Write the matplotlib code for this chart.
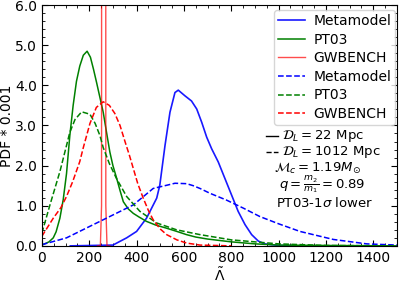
import matplotlib
matplotlib.use('Agg')
import matplotlib.pyplot as plt
from matplotlib.ticker import MultipleLocator, FormatStrFormatter

# Values (Lambda tilde, PDF * 0.001)
# solid: D_L = 22 Mpc, dashed: D_L = 1012 Mpc
meta_x = [120, 300, 358, 400, 442, 485, 498, 520, 541, 562, 576, 604, 632, 654, 675,
          696, 717, 745, 773, 801, 829, 858, 886, 914, 940, 1000, 1100]
meta_y = [0.0, 0.02, 0.2, 0.36, 0.69, 1.19, 1.51, 2.5, 3.33, 3.82, 3.88, 3.74, 3.61, 3.41, 3.08,
          2.71, 2.42, 2.09, 1.68, 1.27, 0.86, 0.53, 0.28, 0.12, 0.05, 0.01, 0.0]

pt03_x = [0, 30, 48, 60, 76, 90, 104, 118, 132, 146, 160, 175, 191, 205, 218, 231, 245,
          259, 273, 287, 300, 315, 330, 344, 365, 386, 410, 442, 480, 527, 570, 611,
          650, 700, 800, 900, 1000, 1200, 1500]
pt03_y = [0.02, 0.1, 0.2, 0.35, 0.69, 1.15, 1.8, 2.75, 3.5, 4.1, 4.48, 4.75, 4.85, 4.7, 4.4, 4.07, 3.7,
          3.33, 2.83, 2.34, 2.0, 1.7, 1.38, 1.10, 0.92, 0.81, 0.72, 0.61, 0.52, 0.44, 0.36, 0.28,
          0.22, 0.17, 0.1, 0.05, 0.02, 0.01, 0.0]

gwb_x = [235, 247, 252, 254, 268, 270, 275, 287]
gwb_y = [0.0, 0.0, 1.0, 60.0, 60.0, 1.0, 0.0, 0.0]

meta_d_x = [0, 104, 245, 386, 470, 498, 527, 562, 611, 639, 668, 710, 780, 851, 921,
            1000, 1090, 1231, 1372, 1500]
meta_d_y = [0.03, 0.2, 0.61, 1.02, 1.43, 1.47, 1.51, 1.56, 1.55, 1.50, 1.43, 1.31, 1.14, 0.94, 0.73,
            0.55, 0.36, 0.16, 0.05, 0.02]

pt03_d_x = [0, 34, 76, 104, 118, 140, 168, 203, 225, 245, 259, 285, 315, 358, 414, 485, 569, 668,
            800, 1000, 1200, 1500]
pt03_d_y = [0.32, 1.02, 1.85, 2.5, 2.83, 3.15, 3.34, 3.28, 3.05, 2.75, 2.45, 2.05, 1.68, 1.23, 0.86,
            0.57, 0.40, 0.28, 0.15, 0.05, 0.01, 0.0]

gwb_d_x = [0, 48, 80, 104, 130, 160, 175, 203, 230, 259, 285, 308, 330, 351, 370, 386, 405,
           428, 450, 470, 500, 527, 570, 611, 668, 800]
gwb_d_y = [0.24, 0.69, 0.95, 1.23, 1.6, 2.1, 2.45, 3.05, 3.45, 3.59, 3.5, 3.3, 3.0, 2.6, 2.25, 1.93,
           1.55, 1.19, 0.88, 0.65, 0.42, 0.28, 0.15, 0.07, 0.02, 0.0]

fig = plt.figure(figsize=(3.99, 2.81), dpi=100)
ax = fig.add_axes([0.105, 0.125, 0.89, 0.857])

ax.plot(meta_x, meta_y, color='blue', lw=1.2, alpha=0.9, label='Metamodel')
ax.plot(pt03_x, pt03_y, color='green', lw=1.1, label='PT03')
ax.plot(gwb_x, gwb_y, color='red', lw=1.0, alpha=0.7, label='GWBENCH')
ax.plot(meta_d_x, meta_d_y, color='blue', lw=1.1, ls='--', label='Metamodel')
ax.plot(pt03_d_x, pt03_d_y, color='green', lw=1.1, ls='--', label='PT03')
ax.plot(gwb_d_x, gwb_d_y, color='red', lw=1.1, ls='--', label='GWBENCH')

ax.set_xlim(0, 1500)
ax.set_ylim(0, 6.0)
ax.xaxis.set_major_locator(MultipleLocator(200))
ax.xaxis.set_minor_locator(MultipleLocator(50))
ax.yaxis.set_major_locator(MultipleLocator(1.0))
ax.yaxis.set_minor_locator(MultipleLocator(0.2))
ax.yaxis.set_major_formatter(FormatStrFormatter('%.1f'))
ax.tick_params(which='both', direction='in', top=True, right=True, labelsize=10)
ax.tick_params(which='major', length=4)
ax.tick_params(which='minor', length=2)

ax.set_xlabel(r'$\tilde{\Lambda}$', fontsize=10, labelpad=1)
ax.set_ylabel('PDF * 0.001', fontsize=10, labelpad=1)

ax.legend(loc='upper right', bbox_to_anchor=(0.995, 0.98), fontsize=10, handlelength=1.9,
          labelspacing=0.33, handletextpad=0.6, borderpad=0.3, borderaxespad=0.0,
          framealpha=0.8)

# annotation block
fs = 9.5
ax.plot([0.631, 0.665], [0.456, 0.456], color='black', lw=1.0, transform=ax.transAxes)
ax.plot([0.631, 0.665], [0.389, 0.389], color='black', lw=1.0, ls='--', transform=ax.transAxes)
ax.text(0.675, 0.456, r'$\mathcal{D}_L = 22$ Mpc', transform=ax.transAxes, fontsize=fs,
        va='center', ha='left')
ax.text(0.675, 0.389, r'$\mathcal{D}_L = 1012$ Mpc', transform=ax.transAxes, fontsize=fs,
        va='center', ha='left')
ax.text(0.777, 0.322, r'$\mathcal{M}_c = 1.19 M_{\odot}$', transform=ax.transAxes, fontsize=fs,
        va='center', ha='center')
ax.text(0.789, 0.252, r'$q = \frac{m_2}{m_1} = 0.89$', transform=ax.transAxes, fontsize=fs,
        va='center', ha='center')
ax.text(0.797, 0.180, r'PT03-1$\sigma$ lower', transform=ax.transAxes, fontsize=fs,
        va='center', ha='center')

fig.savefig('out.png', dpi=100)
